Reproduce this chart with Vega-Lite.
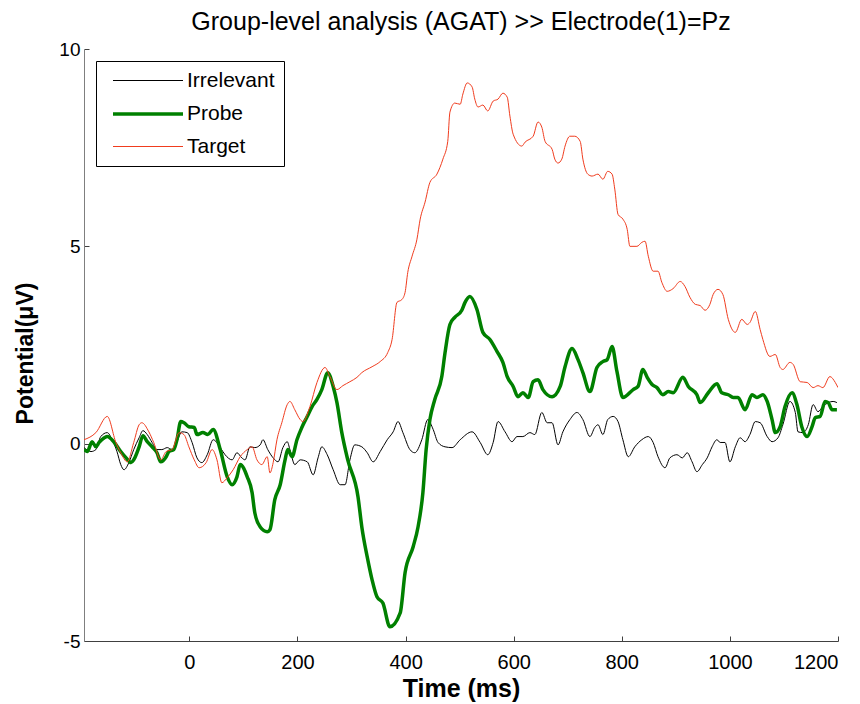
{
  "$schema": "https://vega.github.io/schema/vega-lite/v6.json",
  "width": 754,
  "height": 592,
  "autosize": {"type": "none"},
  "padding": {"left": 84, "top": 49, "right": 22, "bottom": 63},
  "background": "white",
  "config": {
    "view": {"stroke": null},
    "font": "Liberation Sans"
  },
  "title": {
    "text": "Group-level analysis (AGAT) >> Electrode(1)=Pz",
    "fontSize": 25,
    "fontWeight": "normal",
    "font": "Liberation Sans",
    "color": "black",
    "anchor": "middle",
    "baseline": "bottom",
    "offset": -20
  },
  "datasets": {
    "erp": [
      {"s":"Irrelevant","t":-195,"v":-0.10},{"s":"Irrelevant","t":-182,"v":-0.20},{"s":"Irrelevant","t":-173,"v":-0.15},{"s":"Irrelevant","t":-164,"v":0.18},{"s":"Irrelevant","t":-152,"v":0.28},{"s":"Irrelevant","t":-143,"v":0.10},{"s":"Irrelevant","t":-134,"v":-0.20},{"s":"Irrelevant","t":-127,"v":-0.53},{"s":"Irrelevant","t":-121,"v":-0.66},{"s":"Irrelevant","t":-112,"v":-0.48},{"s":"Irrelevant","t":-103,"v":-0.15},{"s":"Irrelevant","t":-93,"v":0.15},{"s":"Irrelevant","t":-86,"v":0.33},{"s":"Irrelevant","t":-78,"v":0.23},{"s":"Irrelevant","t":-69,"v":0.03},{"s":"Irrelevant","t":-60,"v":-0.15},{"s":"Irrelevant","t":-51,"v":-0.15},{"s":"Irrelevant","t":-41,"v":-0.10},{"s":"Irrelevant","t":-32,"v":-0.15},{"s":"Irrelevant","t":-23,"v":0.05},{"s":"Irrelevant","t":-14,"v":0.30},{"s":"Irrelevant","t":-4,"v":0.28},{"s":"Irrelevant","t":5,"v":0.03},{"s":"Irrelevant","t":14,"v":-0.36},{"s":"Irrelevant","t":23,"v":-0.48},{"s":"Irrelevant","t":33,"v":-0.28},{"s":"Irrelevant","t":44,"v":0.10},{"s":"Irrelevant","t":57,"v":-0.10},{"s":"Irrelevant","t":66,"v":-0.28},{"s":"Irrelevant","t":79,"v":-0.41},{"s":"Irrelevant","t":88,"v":-0.23},{"s":"Irrelevant","t":97,"v":-0.36},{"s":"Irrelevant","t":103,"v":-0.41},{"s":"Irrelevant","t":112,"v":-0.08},{"s":"Irrelevant","t":121,"v":-0.10},{"s":"Irrelevant","t":131,"v":-0.03},{"s":"Irrelevant","t":136,"v":0.10},{"s":"Irrelevant","t":145,"v":-0.15},{"s":"Irrelevant","t":155,"v":-0.36},{"s":"Irrelevant","t":164,"v":-0.46},{"s":"Irrelevant","t":173,"v":-0.10},{"s":"Irrelevant","t":181,"v":0.05},{"s":"Irrelevant","t":186,"v":-0.15},{"s":"Irrelevant","t":195,"v":-0.53},{"s":"Irrelevant","t":205,"v":-0.41},{"s":"Irrelevant","t":218,"v":-0.46},{"s":"Irrelevant","t":229,"v":-0.79},{"s":"Irrelevant","t":238,"v":-0.36},{"s":"Irrelevant","t":245,"v":-0.08},{"s":"Irrelevant","t":255,"v":-0.28},{"s":"Irrelevant","t":266,"v":-0.66},{"s":"Irrelevant","t":279,"v":-1.04},{"s":"Irrelevant","t":288,"v":-1.04},{"s":"Irrelevant","t":297,"v":-0.41},{"s":"Irrelevant","t":306,"v":-0.03},{"s":"Irrelevant","t":319,"v":-0.08},{"s":"Irrelevant","t":329,"v":-0.23},{"s":"Irrelevant","t":340,"v":-0.46},{"s":"Irrelevant","t":353,"v":-0.20},{"s":"Irrelevant","t":366,"v":0.10},{"s":"Irrelevant","t":377,"v":0.30},{"s":"Irrelevant","t":386,"v":0.56},{"s":"Irrelevant","t":395,"v":0.28},{"s":"Irrelevant","t":408,"v":-0.15},{"s":"Irrelevant","t":417,"v":-0.23},{"s":"Irrelevant","t":430,"v":0.10},{"s":"Irrelevant","t":441,"v":0.61},{"s":"Irrelevant","t":451,"v":0.36},{"s":"Irrelevant","t":460,"v":0.03},{"s":"Irrelevant","t":473,"v":-0.08},{"s":"Irrelevant","t":486,"v":-0.10},{"s":"Irrelevant","t":501,"v":0.10},{"s":"Irrelevant","t":523,"v":0.30},{"s":"Irrelevant","t":538,"v":0.03},{"s":"Irrelevant","t":552,"v":-0.28},{"s":"Irrelevant","t":562,"v":0.03},{"s":"Irrelevant","t":571,"v":0.56},{"s":"Irrelevant","t":584,"v":0.30},{"s":"Irrelevant","t":597,"v":0.05},{"s":"Irrelevant","t":606,"v":0.18},{"s":"Irrelevant","t":617,"v":0.18},{"s":"Irrelevant","t":630,"v":0.28},{"s":"Irrelevant","t":639,"v":0.23},{"s":"Irrelevant","t":652,"v":0.79},{"s":"Irrelevant","t":662,"v":0.53},{"s":"Irrelevant","t":671,"v":0.53},{"s":"Irrelevant","t":682,"v":-0.03},{"s":"Irrelevant","t":691,"v":0.30},{"s":"Irrelevant","t":704,"v":0.61},{"s":"Irrelevant","t":717,"v":0.79},{"s":"Irrelevant","t":728,"v":0.61},{"s":"Irrelevant","t":741,"v":0.18},{"s":"Irrelevant","t":750,"v":0.41},{"s":"Irrelevant","t":756,"v":0.48},{"s":"Irrelevant","t":765,"v":0.23},{"s":"Irrelevant","t":774,"v":0.61},{"s":"Irrelevant","t":784,"v":0.69},{"s":"Irrelevant","t":793,"v":0.56},{"s":"Irrelevant","t":802,"v":0.10},{"s":"Irrelevant","t":812,"v":-0.33},{"s":"Irrelevant","t":824,"v":-0.08},{"s":"Irrelevant","t":837,"v":0.10},{"s":"Irrelevant","t":849,"v":0.18},{"s":"Irrelevant","t":858,"v":0.03},{"s":"Irrelevant","t":867,"v":-0.33},{"s":"Irrelevant","t":880,"v":-0.61},{"s":"Irrelevant","t":889,"v":-0.36},{"s":"Irrelevant","t":902,"v":-0.28},{"s":"Irrelevant","t":912,"v":-0.36},{"s":"Irrelevant","t":921,"v":-0.23},{"s":"Irrelevant","t":930,"v":-0.46},{"s":"Irrelevant","t":939,"v":-0.71},{"s":"Irrelevant","t":949,"v":-0.53},{"s":"Irrelevant","t":958,"v":-0.36},{"s":"Irrelevant","t":967,"v":-0.08},{"s":"Irrelevant","t":976,"v":0.10},{"s":"Irrelevant","t":982,"v":0.03},{"s":"Irrelevant","t":991,"v":0.03},{"s":"Irrelevant","t":1000,"v":-0.46},{"s":"Irrelevant","t":1010,"v":-0.08},{"s":"Irrelevant","t":1019,"v":0.15},{"s":"Irrelevant","t":1028,"v":0.05},{"s":"Irrelevant","t":1037,"v":0.23},{"s":"Irrelevant","t":1047,"v":0.56},{"s":"Irrelevant","t":1056,"v":0.53},{"s":"Irrelevant","t":1069,"v":0.18},{"s":"Irrelevant","t":1078,"v":0.05},{"s":"Irrelevant","t":1089,"v":0.15},{"s":"Irrelevant","t":1098,"v":0.48},{"s":"Irrelevant","t":1111,"v":1.07},{"s":"Irrelevant","t":1121,"v":0.79},{"s":"Irrelevant","t":1126,"v":0.30},{"s":"Irrelevant","t":1135,"v":0.28},{"s":"Irrelevant","t":1145,"v":0.48},{"s":"Irrelevant","t":1154,"v":0.99},{"s":"Irrelevant","t":1163,"v":0.81},{"s":"Irrelevant","t":1172,"v":0.94},{"s":"Irrelevant","t":1182,"v":1.04},{"s":"Irrelevant","t":1191,"v":1.07},{"s":"Irrelevant","t":1198,"v":1.04},

      {"s":"Probe","t":-195,"v":-0.15},{"s":"Probe","t":-189,"v":-0.20},{"s":"Probe","t":-180,"v":0.05},{"s":"Probe","t":-173,"v":-0.08},{"s":"Probe","t":-167,"v":0.03},{"s":"Probe","t":-162,"v":0.10},{"s":"Probe","t":-152,"v":0.18},{"s":"Probe","t":-140,"v":0.05},{"s":"Probe","t":-127,"v":-0.20},{"s":"Probe","t":-117,"v":-0.36},{"s":"Probe","t":-108,"v":-0.48},{"s":"Probe","t":-103,"v":-0.41},{"s":"Probe","t":-93,"v":-0.08},{"s":"Probe","t":-86,"v":0.20},{"s":"Probe","t":-78,"v":0.05},{"s":"Probe","t":-69,"v":-0.08},{"s":"Probe","t":-60,"v":-0.23},{"s":"Probe","t":-53,"v":-0.46},{"s":"Probe","t":-43,"v":-0.33},{"s":"Probe","t":-38,"v":-0.20},{"s":"Probe","t":-29,"v":-0.15},{"s":"Probe","t":-23,"v":0.10},{"s":"Probe","t":-16,"v":0.56},{"s":"Probe","t":-10,"v":0.53},{"s":"Probe","t":-1,"v":0.43},{"s":"Probe","t":9,"v":0.41},{"s":"Probe","t":14,"v":0.23},{"s":"Probe","t":25,"v":0.28},{"s":"Probe","t":34,"v":0.23},{"s":"Probe","t":44,"v":0.36},{"s":"Probe","t":57,"v":-0.15},{"s":"Probe","t":70,"v":-0.84},{"s":"Probe","t":79,"v":-1.04},{"s":"Probe","t":88,"v":-0.84},{"s":"Probe","t":94,"v":-0.53},{"s":"Probe","t":107,"v":-0.84},{"s":"Probe","t":116,"v":-1.24},{"s":"Probe","t":121,"v":-1.75},{"s":"Probe","t":131,"v":-2.11},{"s":"Probe","t":144,"v":-2.23},{"s":"Probe","t":149,"v":-2.18},{"s":"Probe","t":158,"v":-1.42},{"s":"Probe","t":168,"v":-1.04},{"s":"Probe","t":177,"v":-0.41},{"s":"Probe","t":182,"v":-0.15},{"s":"Probe","t":190,"v":-0.33},{"s":"Probe","t":199,"v":0.10},{"s":"Probe","t":208,"v":0.41},{"s":"Probe","t":218,"v":0.69},{"s":"Probe","t":227,"v":0.94},{"s":"Probe","t":236,"v":1.12},{"s":"Probe","t":245,"v":1.37},{"s":"Probe","t":256,"v":1.80},{"s":"Probe","t":266,"v":1.45},{"s":"Probe","t":273,"v":1.04},{"s":"Probe","t":282,"v":0.28},{"s":"Probe","t":293,"v":-0.41},{"s":"Probe","t":312,"v":-1.35},{"s":"Probe","t":319,"v":-2.11},{"s":"Probe","t":329,"v":-2.87},{"s":"Probe","t":338,"v":-3.45},{"s":"Probe","t":347,"v":-3.88},{"s":"Probe","t":358,"v":-4.04},{"s":"Probe","t":371,"v":-4.64},{"s":"Probe","t":390,"v":-4.29},{"s":"Probe","t":399,"v":-3.27},{"s":"Probe","t":414,"v":-2.61},{"s":"Probe","t":423,"v":-2.11},{"s":"Probe","t":432,"v":-1.24},{"s":"Probe","t":438,"v":-0.15},{"s":"Probe","t":445,"v":0.61},{"s":"Probe","t":454,"v":1.12},{"s":"Probe","t":467,"v":1.70},{"s":"Probe","t":473,"v":2.31},{"s":"Probe","t":482,"v":3.02},{"s":"Probe","t":491,"v":3.20},{"s":"Probe","t":504,"v":3.38},{"s":"Probe","t":510,"v":3.58},{"s":"Probe","t":519,"v":3.73},{"s":"Probe","t":532,"v":3.40},{"s":"Probe","t":543,"v":2.82},{"s":"Probe","t":556,"v":2.64},{"s":"Probe","t":569,"v":2.34},{"s":"Probe","t":580,"v":2.06},{"s":"Probe","t":588,"v":1.70},{"s":"Probe","t":599,"v":1.45},{"s":"Probe","t":608,"v":1.19},{"s":"Probe","t":617,"v":1.29},{"s":"Probe","t":627,"v":1.17},{"s":"Probe","t":636,"v":1.57},{"s":"Probe","t":645,"v":1.62},{"s":"Probe","t":654,"v":1.37},{"s":"Probe","t":671,"v":1.19},{"s":"Probe","t":686,"v":1.45},{"s":"Probe","t":695,"v":1.95},{"s":"Probe","t":708,"v":2.41},{"s":"Probe","t":719,"v":2.13},{"s":"Probe","t":728,"v":1.80},{"s":"Probe","t":741,"v":1.32},{"s":"Probe","t":754,"v":1.93},{"s":"Probe","t":765,"v":2.08},{"s":"Probe","t":773,"v":2.13},{"s":"Probe","t":782,"v":2.46},{"s":"Probe","t":791,"v":1.83},{"s":"Probe","t":802,"v":1.17},{"s":"Probe","t":821,"v":1.37},{"s":"Probe","t":830,"v":1.45},{"s":"Probe","t":839,"v":1.88},{"s":"Probe","t":847,"v":1.68},{"s":"Probe","t":856,"v":1.50},{"s":"Probe","t":865,"v":1.42},{"s":"Probe","t":876,"v":1.24},{"s":"Probe","t":886,"v":1.32},{"s":"Probe","t":895,"v":1.29},{"s":"Probe","t":913,"v":1.68},{"s":"Probe","t":923,"v":1.45},{"s":"Probe","t":939,"v":1.24},{"s":"Probe","t":945,"v":1.04},{"s":"Probe","t":960,"v":1.29},{"s":"Probe","t":976,"v":1.52},{"s":"Probe","t":985,"v":1.29},{"s":"Probe","t":997,"v":1.24},{"s":"Probe","t":1006,"v":1.17},{"s":"Probe","t":1015,"v":1.17},{"s":"Probe","t":1028,"v":0.86},{"s":"Probe","t":1041,"v":1.24},{"s":"Probe","t":1050,"v":1.17},{"s":"Probe","t":1061,"v":1.24},{"s":"Probe","t":1069,"v":1.07},{"s":"Probe","t":1078,"v":0.61},{"s":"Probe","t":1084,"v":0.28},{"s":"Probe","t":1093,"v":0.43},{"s":"Probe","t":1102,"v":0.94},{"s":"Probe","t":1115,"v":1.29},{"s":"Probe","t":1124,"v":0.99},{"s":"Probe","t":1133,"v":0.43},{"s":"Probe","t":1143,"v":0.18},{"s":"Probe","t":1152,"v":0.43},{"s":"Probe","t":1158,"v":0.66},{"s":"Probe","t":1167,"v":0.69},{"s":"Probe","t":1176,"v":1.07},{"s":"Probe","t":1182,"v":1.04},{"s":"Probe","t":1189,"v":0.86},{"s":"Probe","t":1198,"v":0.86},

      {"s":"Target","t":-195,"v":0.10},{"s":"Target","t":-173,"v":0.28},{"s":"Target","t":-152,"v":0.69},{"s":"Target","t":-136,"v":0.03},{"s":"Target","t":-127,"v":-0.23},{"s":"Target","t":-115,"v":-0.46},{"s":"Target","t":-103,"v":0.03},{"s":"Target","t":-93,"v":0.48},{"s":"Target","t":-88,"v":0.53},{"s":"Target","t":-75,"v":0.30},{"s":"Target","t":-66,"v":0.03},{"s":"Target","t":-53,"v":-0.41},{"s":"Target","t":-43,"v":-0.20},{"s":"Target","t":-32,"v":-0.15},{"s":"Target","t":-19,"v":0.28},{"s":"Target","t":-10,"v":0.23},{"s":"Target","t":-1,"v":-0.08},{"s":"Target","t":9,"v":-0.41},{"s":"Target","t":18,"v":-0.61},{"s":"Target","t":31,"v":-0.48},{"s":"Target","t":42,"v":-0.15},{"s":"Target","t":51,"v":-0.41},{"s":"Target","t":60,"v":-0.99},{"s":"Target","t":70,"v":-0.86},{"s":"Target","t":81,"v":-0.66},{"s":"Target","t":94,"v":-0.33},{"s":"Target","t":107,"v":-0.15},{"s":"Target","t":116,"v":-0.08},{"s":"Target","t":125,"v":-0.41},{"s":"Target","t":134,"v":-0.53},{"s":"Target","t":144,"v":-0.33},{"s":"Target","t":149,"v":-0.74},{"s":"Target","t":155,"v":-0.48},{"s":"Target","t":162,"v":0.10},{"s":"Target","t":171,"v":0.53},{"s":"Target","t":181,"v":0.99},{"s":"Target","t":186,"v":1.07},{"s":"Target","t":195,"v":0.86},{"s":"Target","t":205,"v":0.61},{"s":"Target","t":210,"v":0.56},{"s":"Target","t":223,"v":0.94},{"s":"Target","t":236,"v":1.55},{"s":"Target","t":251,"v":1.93},{"s":"Target","t":260,"v":1.70},{"s":"Target","t":273,"v":1.37},{"s":"Target","t":284,"v":1.47},{"s":"Target","t":297,"v":1.57},{"s":"Target","t":310,"v":1.68},{"s":"Target","t":319,"v":1.80},{"s":"Target","t":338,"v":1.95},{"s":"Target","t":353,"v":2.08},{"s":"Target","t":367,"v":2.31},{"s":"Target","t":375,"v":2.64},{"s":"Target","t":384,"v":3.58},{"s":"Target","t":393,"v":3.65},{"s":"Target","t":399,"v":3.83},{"s":"Target","t":404,"v":4.34},{"s":"Target","t":412,"v":4.75},{"s":"Target","t":421,"v":5.18},{"s":"Target","t":427,"v":5.69},{"s":"Target","t":436,"v":6.12},{"s":"Target","t":445,"v":6.62},{"s":"Target","t":458,"v":6.83},{"s":"Target","t":469,"v":7.21},{"s":"Target","t":478,"v":7.66},{"s":"Target","t":482,"v":8.40},{"s":"Target","t":491,"v":8.63},{"s":"Target","t":501,"v":8.60},{"s":"Target","t":506,"v":8.86},{"s":"Target","t":514,"v":9.14},{"s":"Target","t":523,"v":9.04},{"s":"Target","t":528,"v":8.73},{"s":"Target","t":534,"v":8.53},{"s":"Target","t":543,"v":8.58},{"s":"Target","t":552,"v":8.43},{"s":"Target","t":562,"v":8.68},{"s":"Target","t":571,"v":8.73},{"s":"Target","t":580,"v":8.88},{"s":"Target","t":588,"v":8.78},{"s":"Target","t":593,"v":8.30},{"s":"Target","t":599,"v":7.84},{"s":"Target","t":615,"v":7.54},{"s":"Target","t":621,"v":7.64},{"s":"Target","t":636,"v":7.79},{"s":"Target","t":645,"v":8.15},{"s":"Target","t":652,"v":8.02},{"s":"Target","t":658,"v":7.66},{"s":"Target","t":671,"v":7.46},{"s":"Target","t":676,"v":7.21},{"s":"Target","t":682,"v":7.11},{"s":"Target","t":689,"v":7.21},{"s":"Target","t":695,"v":7.54},{"s":"Target","t":704,"v":7.79},{"s":"Target","t":713,"v":7.79},{"s":"Target","t":723,"v":7.66},{"s":"Target","t":728,"v":7.21},{"s":"Target","t":737,"v":6.83},{"s":"Target","t":745,"v":6.78},{"s":"Target","t":756,"v":6.83},{"s":"Target","t":765,"v":6.70},{"s":"Target","t":774,"v":6.90},{"s":"Target","t":782,"v":6.83},{"s":"Target","t":787,"v":6.45},{"s":"Target","t":793,"v":5.81},{"s":"Target","t":802,"v":5.69},{"s":"Target","t":810,"v":5.43},{"s":"Target","t":815,"v":5.00},{"s":"Target","t":828,"v":5.00},{"s":"Target","t":837,"v":5.10},{"s":"Target","t":843,"v":5.13},{"s":"Target","t":849,"v":4.75},{"s":"Target","t":858,"v":4.37},{"s":"Target","t":867,"v":4.37},{"s":"Target","t":874,"v":4.09},{"s":"Target","t":884,"v":3.86},{"s":"Target","t":895,"v":3.93},{"s":"Target","t":908,"v":4.11},{"s":"Target","t":917,"v":3.98},{"s":"Target","t":926,"v":3.71},{"s":"Target","t":936,"v":3.53},{"s":"Target","t":945,"v":3.50},{"s":"Target","t":954,"v":3.38},{"s":"Target","t":963,"v":3.53},{"s":"Target","t":969,"v":3.78},{"s":"Target","t":978,"v":3.91},{"s":"Target","t":987,"v":3.78},{"s":"Target","t":997,"v":3.15},{"s":"Target","t":1010,"v":2.82},{"s":"Target","t":1022,"v":3.15},{"s":"Target","t":1032,"v":3.02},{"s":"Target","t":1037,"v":3.07},{"s":"Target","t":1047,"v":3.35},{"s":"Target","t":1056,"v":2.89},{"s":"Target","t":1061,"v":2.64},{"s":"Target","t":1074,"v":2.21},{"s":"Target","t":1084,"v":2.26},{"s":"Target","t":1093,"v":1.93},{"s":"Target","t":1098,"v":1.88},{"s":"Target","t":1111,"v":2.06},{"s":"Target","t":1117,"v":2.01},{"s":"Target","t":1130,"v":1.57},{"s":"Target","t":1143,"v":1.55},{"s":"Target","t":1154,"v":1.42},{"s":"Target","t":1163,"v":1.47},{"s":"Target","t":1172,"v":1.42},{"s":"Target","t":1185,"v":1.70},{"s":"Target","t":1195,"v":1.55},{"s":"Target","t":1200,"v":1.42}
    ]
  },
  "layer": [
    {
      "mark": {"type": "rule", "color": "black", "strokeWidth": 1},
      "encoding": {"y": {"datum": 0, "type": "quantitative", "scale": {"domain": [-5, 10]}}}
    },
    {
      "mark": {"type": "rule", "color": "#7f7f7f", "strokeWidth": 1.5},
      "encoding": {"x": {"datum": 0, "type": "quantitative", "scale": {"domain": [-195, 1200]}}}
    },
    {
      "data": {"name": "erp"},
      "mark": {"type": "line", "interpolate": "monotone", "clip": true},
      "encoding": {
        "x": {
          "field": "t", "type": "quantitative",
          "scale": {"domain": [-195, 1200], "nice": false, "zero": false},
          "axis": {
            "values": [0, 200, 400, 600, 800, 1000, 1200],
            "labelExpr": "toString(datum.value)",
            "title": "Time (ms)",
            "titleFontSize": 25, "titleFontWeight": "bold", "titleColor": "black", "titlePadding": 4,
            "labelFontSize": 20, "labelColor": "black", "labelPadding": 16,
            "tickSize": -5, "tickColor": "#404040", "domainColor": "#404040", "grid": false,
            "labelFont": "Liberation Sans", "titleFont": "Liberation Sans"
          }
        },
        "y": {
          "field": "v", "type": "quantitative",
          "scale": {"domain": [-5, 10], "nice": false, "zero": false},
          "axis": {
            "values": [-5, 0, 5, 10],
            "labelExpr": "toString(datum.value)",
            "title": "Potential(μV)",
            "titleFontSize": 23, "titleFontWeight": "bold", "titleColor": "black", "titlePadding": 21,
            "titleY": 304,
            "labelFontSize": 19, "labelColor": "black", "labelPadding": 9,
            "tickSize": -5, "tickColor": "#404040", "domainColor": "#7f7f7f", "grid": false,
            "labelFont": "Liberation Sans", "titleFont": "Liberation Sans"
          }
        },
        "color": {
          "field": "s", "type": "nominal",
          "scale": {"domain": ["Irrelevant", "Probe", "Target"], "range": ["#000000", "#008000", "#f03c1e"]},
          "legend": {
            "title": null,
            "orient": "none",
            "legendX": 12,
            "legendY": 12,
            "symbolType": "M-0.4,0H6.6",
            "symbolSize": 400,
            "labelFontSize": 21,
            "labelFont": "Liberation Sans",
            "labelColor": "black",
            "labelOffset": 58,
            "rowPadding": 11,
            "padding": 9,
            "fillColor": "white",
            "strokeColor": "black",
            "cornerRadius": 0
          }
        },
        "strokeWidth": {
          "field": "s", "type": "nominal",
          "scale": {"type": "ordinal", "domain": ["Irrelevant", "Probe", "Target"], "range": [1, 3.5, 1]},
          "legend": {
            "title": null,
            "orient": "none",
            "legendX": 12,
            "legendY": 12,
            "symbolType": "M-0.4,0H6.6",
            "symbolSize": 400,
            "labelFontSize": 21,
            "labelFont": "Liberation Sans",
            "labelColor": "black",
            "labelOffset": 58,
            "rowPadding": 11,
            "padding": 9,
            "fillColor": "white",
            "strokeColor": "black",
            "cornerRadius": 0
          }
        }
      }
    }
  ]
}
